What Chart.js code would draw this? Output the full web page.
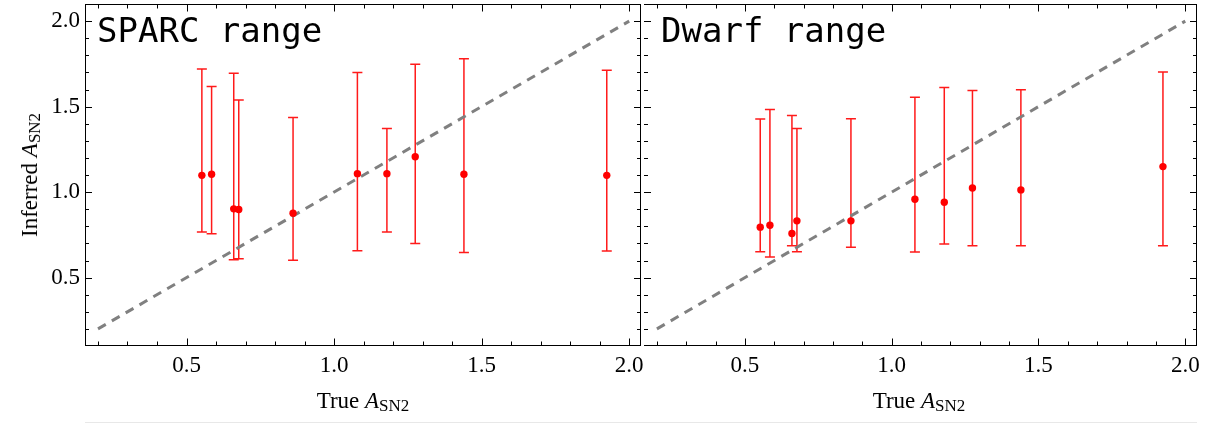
<!DOCTYPE html>
<html>
<head>
<meta charset="utf-8">
<script src="https://cdn.jsdelivr.net/npm/chart.js@4.4.1/dist/chart.umd.min.js"></script>
<style>
  body { margin: 0; background: #fff; width: 1224px; height: 424px; position: relative; overflow: hidden; font-family: "Liberation Serif", serif; }
  #c1 { position: absolute; left: 0; top: 0; }
  #c2 { position: absolute; left: 640px; top: 0; }
  .lab { position: absolute; font-size: 23px; color: #000; white-space: nowrap; transform: translate(-50%, -50%); }
  .lab sub { font-size: 17px; vertical-align: baseline; position: relative; top: 3px; }
  .ylab { transform: translate(-50%, -50%) rotate(-90deg); }
  #foot { position: absolute; left: 85px; top: 422px; width: 1112px; height: 1px; background: #e8e8e8; }
</style>
</head>
<body>
<canvas id="c1" width="645" height="424"></canvas>
<canvas id="c2" width="584" height="424"></canvas>
<div class="lab ylab" style="left:30px; top:175px;">Inferred <i>A</i><sub>SN2</sub></div>
<div class="lab" style="left:363px; top:401px;">True <i>A</i><sub>SN2</sub></div>
<div class="lab" style="left:919px; top:401px;">True <i>A</i><sub>SN2</sub></div>
<div id="foot"></div>
<script>
// valores verdaderos (eje x), iguales en los dos paneles
const xTrue = [0.552, 0.585, 0.660, 0.677, 0.861, 1.079, 1.179, 1.275, 1.440, 1.924];

// panel SPARC
const sparcMid = [1.098, 1.104, 0.902, 0.898, 0.876, 1.108, 1.108, 1.207, 1.104, 1.098];
const sparcHi  = [1.720, 1.617, 1.695, 1.538, 1.436, 1.700, 1.372, 1.747, 1.780, 1.713];
const sparcLo  = [0.766, 0.756, 0.605, 0.610, 0.602, 0.657, 0.766, 0.700, 0.647, 0.655];

// panel Dwarf
const dwarfMid = [0.795, 0.806, 0.758, 0.832, 0.832, 0.958, 0.941, 1.024, 1.013, 1.149];
const dwarfHi  = [1.427, 1.483, 1.448, 1.372, 1.429, 1.555, 1.611, 1.594, 1.598, 1.703];
const dwarfLo  = [0.651, 0.620, 0.686, 0.651, 0.678, 0.649, 0.696, 0.686, 0.686, 0.686];

// linea identidad y ticks
const identity = [0.2, 2.0];
const xTicks = [0.5, 1.0, 1.5, 2.0];
const yTicks = [0.5, 1.0, 1.5, 2.0];

const tickFont = { family: "'Liberation Serif', serif", size: 23 };

// barras de error
const errBars = {
  id: "errbars",
  beforeDatasetsDraw(chart, args, opts) {
    const { ctx, scales: { x, y } } = chart;
    ctx.save();
    ctx.strokeStyle = "#ff1a1a";
    ctx.lineWidth = 1.5;
    xTrue.forEach((v, i) => {
      const px = x.getPixelForValue(v);
      const top = y.getPixelForValue(opts.hi[i]);
      const bot = y.getPixelForValue(opts.lo[i]);
      ctx.beginPath();
      ctx.moveTo(px, top); ctx.lineTo(px, bot);
      ctx.moveTo(px - 5, top); ctx.lineTo(px + 5, top);
      ctx.moveTo(px - 5, bot); ctx.lineTo(px + 5, bot);
      ctx.stroke();
    });
    ctx.restore();
  }
};

// marco, ticks hacia dentro y titulo del panel
const frame = {
  id: "frame",
  afterDraw(chart, args, opts) {
    const { ctx, chartArea: a, scales: { x, y } } = chart;
    ctx.save();
    ctx.strokeStyle = "#000";
    ctx.lineWidth = 1;
    const L = a.left + 0.5, R = a.right - 0.5, T = a.top + 0.5, B = a.bottom - 0.5;
    ctx.beginPath();
    if (opts.drawLeft) { ctx.moveTo(L, T); ctx.lineTo(L, B); }
    ctx.moveTo(L - 0.5, B); ctx.lineTo(R + 0.5, B);
    ctx.moveTo(R, B); ctx.lineTo(R, T);
    ctx.moveTo(R + 0.5, T); ctx.lineTo(L - 0.5, T);
    ctx.stroke();

    ctx.beginPath();
    for (let k = 2; k <= 20; k++) {
      const v = k / 10;
      const len = k % 5 === 0 ? 7 : 4;
      const px = Math.round(x.getPixelForValue(v)) + 0.5;
      ctx.moveTo(px, B); ctx.lineTo(px, B - len);
      ctx.moveTo(px, T); ctx.lineTo(px, T + len);
      const py = Math.round(y.getPixelForValue(v)) + 0.5;
      ctx.moveTo(a.left, py); ctx.lineTo(a.left + len, py);
      ctx.moveTo(a.right, py); ctx.lineTo(a.right - len, py);
    }
    ctx.stroke();

    ctx.fillStyle = "#000";
    ctx.font = "34px 'DejaVu Sans Mono', monospace";
    ctx.textBaseline = "alphabetic";
    ctx.fillText(opts.title, a.left + opts.titleX, a.top + 38);
    ctx.restore();
  }
};

function makePanel(id, title, titleX, mid, lo, hi, showY, padLeft, padRight) {
  const pts = xTrue.map((x, i) => ({ x: x, y: mid[i] }));
  return new Chart(document.getElementById(id), {
    type: "scatter",
    data: {
      datasets: [
        {
          data: identity.map((v) => ({ x: v, y: v })),
          showLine: true,
          borderColor: "#808080",
          borderWidth: 3,
          borderDash: [9, 7],
          pointRadius: 0,
          order: 2,
        },
        {
          data: pts,
          backgroundColor: "#ff0000",
          borderWidth: 0,
          pointRadius: 3.7,
          order: 1,
        },
      ],
    },
    options: {
      responsive: false,
      animation: false,
      events: [],
      layout: { padding: { top: 3, left: padLeft, right: padRight, bottom: 0 } },
      plugins: {
        legend: { display: false },
        tooltip: { enabled: false },
        errbars: { lo: lo, hi: hi },
        frame: { title: title, titleX: titleX, drawLeft: showY },
      },
      scales: {
        x: {
          type: "linear",
          min: 0.156,
          max: 2.04,
          afterBuildTicks: (s) => { s.ticks = xTicks.map((v) => ({ value: v })); },
          afterFit: (s) => { s.height = 78; s.paddingLeft = 0; s.paddingRight = 0; },
          grid: { display: false, drawTicks: false },
          border: { display: false },
          ticks: { font: tickFont, color: "#000", padding: 6, maxRotation: 0, autoSkip: false, callback: (v) => v.toFixed(1) },
        },
        y: {
          type: "linear",
          display: showY,
          min: 0.1,
          max: 2.1,
          afterBuildTicks: (s) => { s.ticks = yTicks.map((v) => ({ value: v })); },
          afterFit: (s) => {
            s.width = showY ? 85 : 0;
            s.paddingTop = 0;
            s.paddingBottom = 0;
          },
          grid: { display: false, drawTicks: false },
          border: { display: false },
          ticks: { font: tickFont, color: "#000", padding: 5, autoSkip: false, callback: (v) => v.toFixed(1) },
        },
      },
    },
    plugins: [errBars, frame],
  });
}

makePanel("c1", "SPARC range", 12, sparcMid, sparcLo, sparcHi, true, 0, 4);
makePanel("c2", "Dwarf range", 17, dwarfMid, dwarfLo, dwarfHi, false, 1, 27);
</script>
</body>
</html>
